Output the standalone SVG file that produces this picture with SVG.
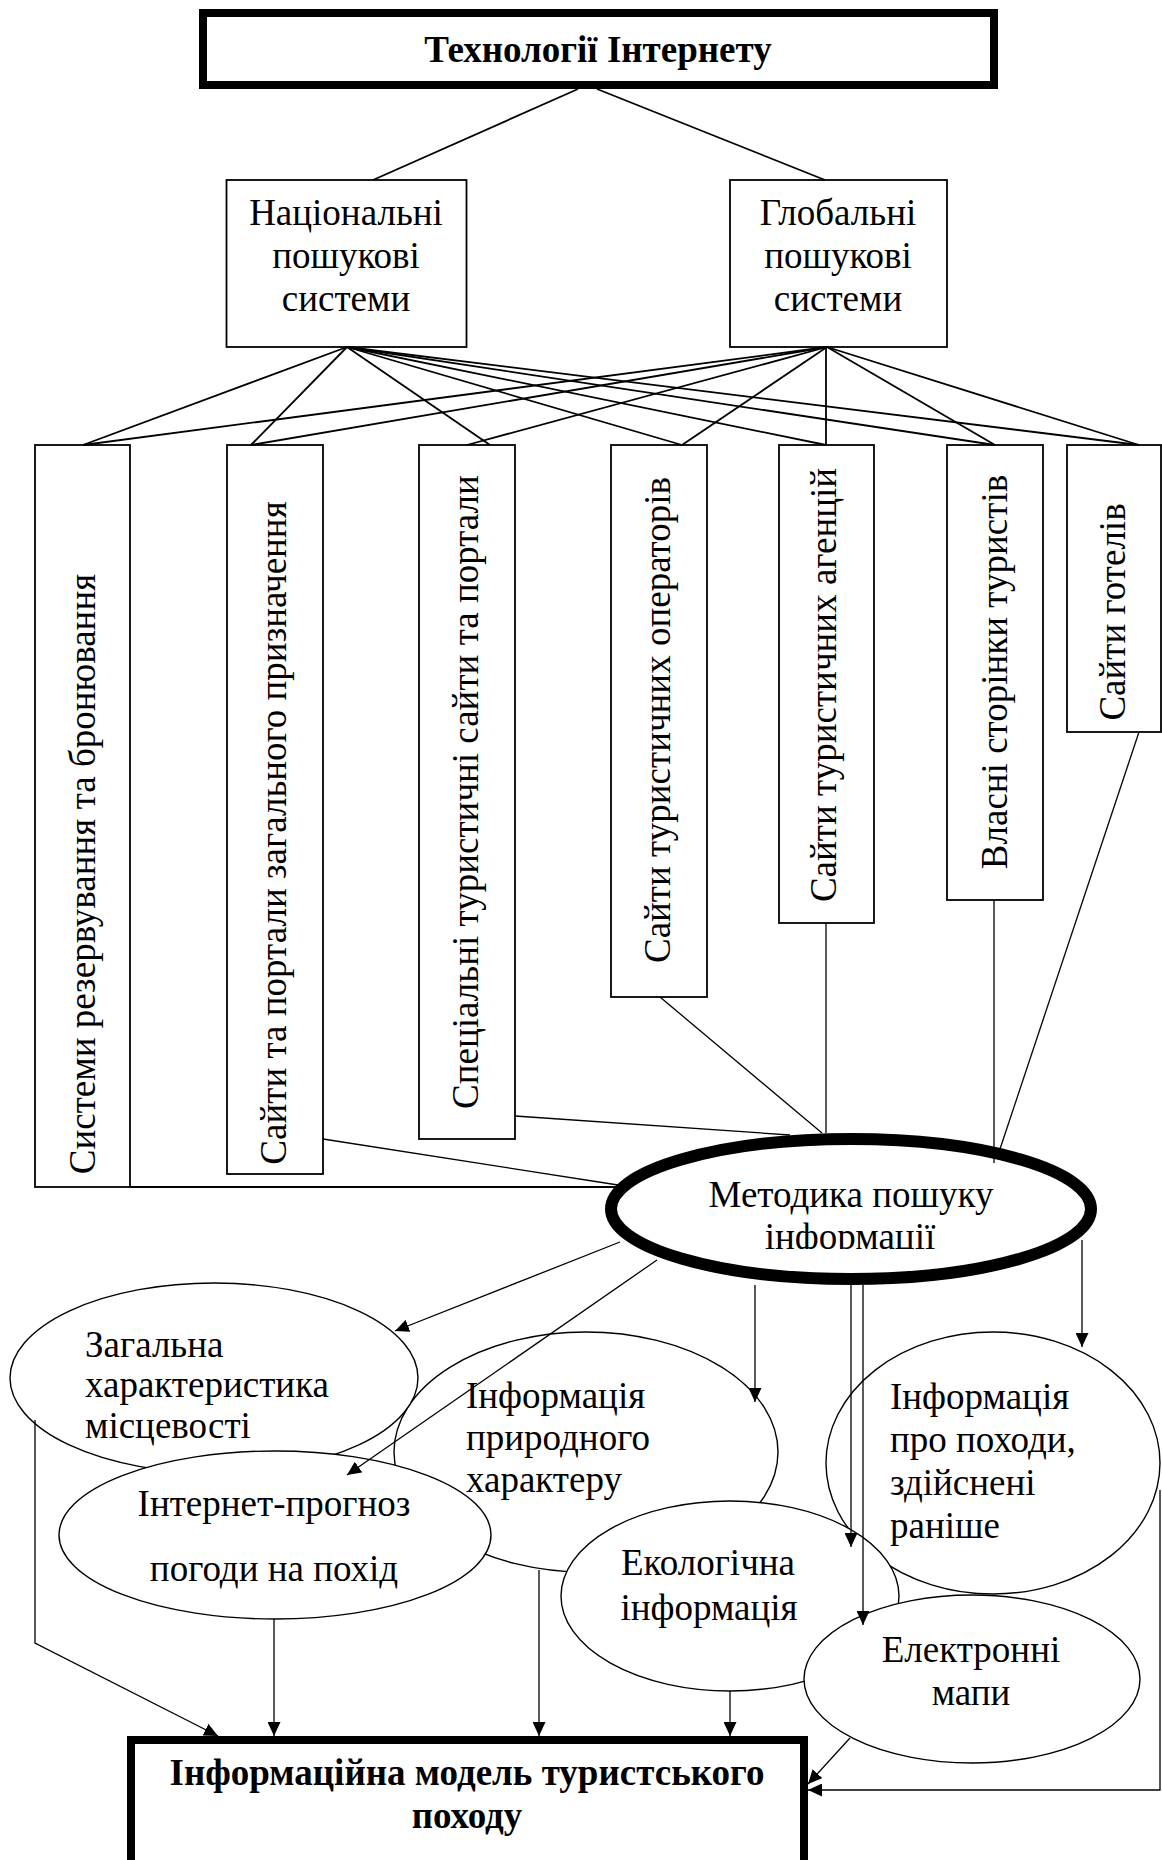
<svg xmlns="http://www.w3.org/2000/svg" width="1162" height="1860" viewBox="0 0 1162 1860">
<style>
.bg{fill:#fff}
.box{fill:#fff;stroke:#000;stroke-width:1.8}
.thick{fill:#fff;stroke:#000;stroke-width:8}
.ell{fill:#fff;stroke:#000;stroke-width:1.4}
.t{font-family:"Liberation Serif","Times New Roman",serif;font-size:37px;fill:#000}
.b{font-weight:bold}
.v{font-family:"Liberation Serif","Times New Roman",serif;font-size:37px;fill:#000}
.ln{fill:none;stroke:#000;stroke-width:1.8}
.la{fill:none;stroke:#000;stroke-width:1.3}
</style>
<defs>
<marker id="ah" markerUnits="userSpaceOnUse" markerWidth="15" markerHeight="13" refX="14" refY="6.5" orient="auto">
<path d="M0,0 L14,6.5 L0,13 z" fill="#000"/>
</marker>
<clipPath id="clipM"><rect x="600" y="1100" width="500" height="149"/></clipPath>
</defs>
<rect class="bg" x="0" y="0" width="1162" height="1860"/>

<g id="n-top">
<rect class="thick" x="203" y="13" width="791" height="72"/>
<text class="t b" x="598" y="62" text-anchor="middle">Технології Інтернету</text>
</g>
<g id="n-nat">
<rect class="box" x="226.5" y="180" width="240" height="167"/>
<text class="t" text-anchor="middle"><tspan x="346" y="225">Національні</tspan><tspan x="346" y="268">пошукові</tspan><tspan x="346" y="311">системи</tspan></text>
</g>
<g id="n-glob">
<rect class="box" x="730" y="180" width="217" height="167"/>
<text class="t" text-anchor="middle"><tspan x="838" y="225">Глобальні</tspan><tspan x="838" y="268">пошукові</tspan><tspan x="838" y="311">системи</tspan></text>
</g>

<g id="c1">
<rect class="box" x="35" y="445" width="95" height="742"/>
<text class="v" text-anchor="middle" transform="translate(95,874) rotate(-90)">Системи резервування та бронювання</text>
</g>
<g id="c2">
<rect class="box" x="227" y="445" width="96" height="729"/>
<text class="v" text-anchor="middle" transform="translate(286,833) rotate(-90)">Сайти та портали загального призначення</text>
</g>
<g id="c3">
<rect class="box" x="419" y="445" width="96" height="694"/>
<text class="v" text-anchor="middle" transform="translate(478,792) rotate(-90)">Спеціальні туристичні сайти та портали</text>
</g>
<g id="c4">
<rect class="box" x="611" y="445" width="96" height="552"/>
<text class="v" text-anchor="middle" transform="translate(670,720) rotate(-90)">Сайти туристичних операторів</text>
</g>
<g id="c5">
<rect class="box" x="779" y="445" width="95" height="478"/>
<text class="v" text-anchor="middle" transform="translate(836,685) rotate(-90)">Сайти туристичних агенцій</text>
</g>
<g id="c6">
<rect class="box" x="947" y="445" width="96" height="455"/>
<text class="v" text-anchor="middle" transform="translate(1007,672) rotate(-90)">Власні сторінки туристів</text>
</g>
<g id="c7">
<rect class="box" x="1067" y="445" width="94" height="287"/>
<text class="v" text-anchor="middle" transform="translate(1125,612) rotate(-90)">Сайти готелів</text>
</g>

<g id="n-method">
<ellipse fill="#fff" stroke="#000" stroke-width="12" cx="851" cy="1209" rx="240" ry="70"/>
<text class="t" x="851" y="1207" text-anchor="middle">Методика пошуку</text>
<text class="t" x="850" y="1249" text-anchor="middle" clip-path="url(#clipM)">інформації</text>
</g>

<g id="n-prir">
<ellipse class="ell" cx="586" cy="1452" rx="192" ry="120"/>
<text class="t"><tspan x="466" y="1408">Інформація</tspan><tspan x="466" y="1450">природного</tspan><tspan x="466" y="1492">характеру</tspan></text>
</g>
<g id="n-zag">
<ellipse class="ell" cx="214" cy="1378" rx="204" ry="95"/>
<text class="t"><tspan x="85" y="1357">Загальна</tspan><tspan x="85" y="1397">характеристика</tspan><tspan x="85" y="1438">місцевості</tspan></text>
</g>
<g id="n-int">
<ellipse class="ell" cx="275" cy="1535" rx="216" ry="84"/>
<text class="t" text-anchor="middle"><tspan x="274" y="1516">Інтернет-прогноз</tspan><tspan x="274" y="1581">погоди на похід</tspan></text>
</g>
<g id="n-inf">
<ellipse class="ell" cx="993" cy="1463" rx="167" ry="131"/>
<text class="t"><tspan x="890" y="1409">Інформація</tspan><tspan x="890" y="1452">про походи,</tspan><tspan x="890" y="1495">здійснені</tspan><tspan x="890" y="1538">раніше</tspan></text>
</g>
<g id="n-eko">
<ellipse class="ell" cx="730" cy="1596" rx="169" ry="95"/>
<text class="t" text-anchor="middle"><tspan x="708" y="1575">Екологічна</tspan><tspan x="709" y="1620">інформація</tspan></text>
</g>
<g id="n-ele">
<ellipse class="ell" cx="972" cy="1679" rx="168" ry="84"/>
<text class="t" text-anchor="middle"><tspan x="971" y="1662">Електронні</tspan><tspan x="971" y="1705">мапи</tspan></text>
</g>

<g id="n-model">
<rect class="thick" x="131" y="1740" width="673" height="140"/>
<text class="t b" text-anchor="middle"><tspan x="467" y="1785">Інформаційна модель туристського</tspan><tspan x="467" y="1828">походу</tspan></text>
</g>

<g id="connectors">
<line class="ln" x1="578" y1="89" x2="373" y2="180"/>
<line class="ln" x1="597" y1="89" x2="825" y2="180"/>

<line class="ln" x1="347" y1="347" x2="83" y2="445"/>
<line class="ln" x1="347" y1="347" x2="251" y2="445"/>
<line class="ln" x1="347" y1="347" x2="490" y2="445"/>
<line class="ln" x1="347" y1="347" x2="682" y2="445"/>
<line class="ln" x1="347" y1="347" x2="826" y2="445"/>
<line class="ln" x1="347" y1="347" x2="995" y2="445"/>
<line class="ln" x1="347" y1="347" x2="1139" y2="445"/>
<line class="ln" x1="827" y1="347" x2="83" y2="445"/>
<line class="ln" x1="827" y1="347" x2="251" y2="445"/>
<line class="ln" x1="827" y1="347" x2="467" y2="445"/>
<line class="ln" x1="827" y1="347" x2="682" y2="445"/>
<line class="ln" x1="826" y1="347" x2="826" y2="445"/>
<line class="ln" x1="827" y1="347" x2="995" y2="445"/>
<line class="ln" x1="827" y1="347" x2="1139" y2="445"/>

<line class="ln" x1="130" y1="1187" x2="617" y2="1187"/>
<line class="la" x1="323" y1="1139" x2="618" y2="1185"/>
<line class="la" x1="515" y1="1116" x2="790" y2="1135"/>
<line class="la" x1="660" y1="997" x2="822" y2="1133"/>
<line class="la" x1="826" y1="923" x2="826" y2="1133"/>
<line class="la" x1="994" y1="900" x2="994" y2="1163"/>
<line class="la" x1="1139" y1="732" x2="997" y2="1158"/>

<line class="la" x1="620" y1="1242" x2="395" y2="1331" marker-end="url(#ah)"/>
<line class="la" x1="657" y1="1260" x2="347" y2="1475" marker-end="url(#ah)"/>
<line class="la" x1="755" y1="1285" x2="755" y2="1402" marker-end="url(#ah)"/>
<line class="la" x1="851" y1="1285" x2="851" y2="1547" marker-end="url(#ah)"/>
<line class="la" x1="863" y1="1285" x2="863" y2="1625" marker-end="url(#ah)"/>
<line class="la" x1="1082" y1="1240" x2="1082" y2="1347" marker-end="url(#ah)"/>

<polyline class="la" points="35,1420 35,1643 218,1736" marker-end="url(#ah)"/>
<line class="la" x1="274" y1="1619" x2="274" y2="1736" marker-end="url(#ah)"/>
<line class="la" x1="539" y1="1570" x2="539" y2="1736" marker-end="url(#ah)"/>
<line class="la" x1="730" y1="1691" x2="730" y2="1736" marker-end="url(#ah)"/>
<line class="la" x1="850" y1="1738" x2="808" y2="1784" marker-end="url(#ah)"/>
<polyline class="la" points="1160,1490 1160,1790 808,1790" marker-end="url(#ah)"/>
</g>
</svg>
